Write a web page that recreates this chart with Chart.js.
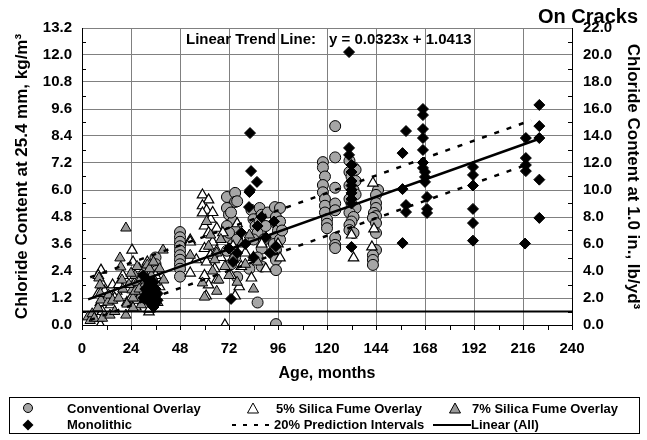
<!DOCTYPE html>
<html>
<head>
<meta charset="utf-8">
<script src="https://cdn.jsdelivr.net/npm/chart.js@4"></script>
<style>
body{margin:0;background:#fff;}
#wrap{position:relative;width:647px;height:440px;font-family:"Liberation Sans",Arial,sans-serif;}
#legend{position:absolute;left:9px;top:397px;width:629px;height:35px;border:1px solid #000;font-weight:bold;font-size:13px;color:#000;}
.item{position:absolute;white-space:nowrap;line-height:15px;}
.mk{position:absolute;}
</style>
</head>
<body>
<div id="wrap">
<canvas id="chart" width="647" height="440"></canvas>
<div id="legend">
  <svg class="mk" style="left:12px;top:4px" width="12" height="12"><circle cx="6" cy="6" r="4.5" fill="#a6a6a6" stroke="#000"/></svg>
  <div class="item" style="left:57px;top:3px">Conventional Overlay</div>
  <svg class="mk" style="left:236px;top:4px" width="14" height="12"><polygon points="7,1 12.5,11 1.5,11" fill="#fff" stroke="#000"/></svg>
  <div class="item" style="left:266px;top:3px">5% Silica Fume Overlay</div>
  <svg class="mk" style="left:438px;top:4px" width="14" height="12"><polygon points="7,1 12.5,11 1.5,11" fill="#999" stroke="#000"/></svg>
  <div class="item" style="left:462px;top:3px">7% Silica Fume Overlay</div>
  <svg class="mk" style="left:12px;top:21px" width="12" height="12"><polygon points="6,0.5 11.5,6 6,11.5 0.5,6" fill="#000"/></svg>
  <div class="item" style="left:57px;top:19px">Monolithic</div>
  <svg class="mk" style="left:222px;top:21px" width="42" height="12"><line x1="0" y1="6" x2="42" y2="6" stroke="#000" stroke-width="2" stroke-dasharray="4,7"/></svg>
  <div class="item" style="left:264px;top:19px">20% Prediction Intervals</div>
  <svg class="mk" style="left:423px;top:21px" width="38" height="12"><line x1="0" y1="6" x2="38" y2="6" stroke="#000" stroke-width="2"/></svg>
  <div class="item" style="left:461px;top:19px">Linear (All)</div>
</div>
</div>
<script>
var fontFam = '"Liberation Sans", Arial, sans-serif';

// conventional overlay
var convAge = [36,36,36.5, 48,48,48,48,48,48,48,48,48,48,
  71,75,75,71,72,74,71,75,72,74,71,75,73,76,73,72,74,76,76,
  83,87,84,85,86,84,88,86,88,82,86,87,89,90,91,88,
  94.5,97,95,95,96,95,94,95,95,95,95,97,97,98,
  118,118,119,118,118,119,119,119,120,120,120,
  124,124,124,124,124,124,124,124,
  131,133,131,132,134,131,133,134,131,132,134,131,133,132,131,131,133,134,
  145,144,144,144,143,144,142.5,144,144,144,142.5,142.5,142.5];
var convCl = [3.0,2.7,2.4, 4.13,3.9,3.7,3.5,3.3,3.1,2.9,2.7,2.5,2.15,
  5.69,5.87,5.47,5.2,4.9,4.6,4.4,4.2,3.9,3.6,3.3,3.0,2.7,2.13,5.0,4.1,3.4,5.5,3.8,
  5.11,5.2,4.7,4.4,4.1,3.8,3.4,3.0,4.9,2.5,1.0,4.6,3.8,4.4,5.0,2.6,
  5.24,5.2,4.8,4.53,4.2,3.9,3.6,3.33,2.89,2.44,0.04,4.6,3.8,4.2,
  7.24,7.0,6.6,6.22,5.9,5.6,5.3,5.0,4.7,4.5,4.3,
  8.84,7.45,6.1,5.4,5.1,3.87,3.56,3.42,
  7.3,7.0,6.8,6.6,6.4,6.2,6.0,5.8,5.6,5.4,5.2,5.0,4.8,4.6,4.44,4.22,4.09,6.9,
  6.0,5.78,5.42,5.2,4.98,4.84,4.76,4.53,4.09,3.33,3.1,2.89,2.67];

// 5% silica fume overlay
var sf5Age = [9,8,10,9,8,10,9.3,8,12,15,14,17,20,22,24.5,25,26,26.4,28,29,30,32,32.8,34,36,38,
  24,27,31,33,35,37,22,18,16,11,
  53,53,53,56,
  59,62,59,61,59,63,60,62,64,60,63,61,65,60,62,60.8,66,66,64,66,68,69,
  70,73,74,75,76,78,80,77,
  83,84,88,90,97,96,
  132,133,142.5,143,142];
var sf5Cl = [0.0,0.3,0.6,1.0,1.4,1.8,2.44,2.2,1.2,1.78,0.9,1.5,2.2,1.0,3.33,2.8,1.9,0.8,2.5,1.5,2.0,2.8,0.58,1.8,2.2,1.7,
  1.2,1.1,1.1,0.7,1.3,1.0,1.6,1.8,1.2,1.5,
  3.78,3.69,2.31,2.9,
  5.78,5.56,5.3,5.1,4.98,4.7,4.4,4.1,3.69,3.4,3.1,2.8,2.5,2.2,1.78,1.29,3.3,4.3,5.0,2.0,3.0,4.1,
  0.0,2.2,3.5,1.29,4.5,2.6,3.2,1.7,
  2.09,3.0,3.6,2.5,2.98,3.6,
  4.0,2.98,6.31,4.27,3.47];

// 7% silica fume overlay
var sf7Age = [3,4,5,6,7.8,8.3,8.8,9.3,9,10,12.7,13,13.7,15,16,18,18.6,19,19.6,20,21.5,21.5,22,
  24.5,25,26,27,28,29,30,30,31,32,33,34,35,38,39.7,40,
  25,26,27,28,29,31,33,35,36,23,24,
  53,59,60,62,64,66,61,63,65,67,68,70,66,
  72,74,76,78,80,82,84,86];
var sf7Cl = [0.36,0.2,0.5,0.3,0.76,2.09,1.78,1.11,1.4,0.3,1.02,1.33,0.44,1.1,0.6,1.2,2.98,2.58,2.0,1.6,4.31,0.44,0.93,
  1.56,0.76,2.2,1.9,1.2,0.9,1.7,2.4,1.4,2.67,1.9,2.2,1.5,2.5,3.33,2.0,
  1.2,1.5,2.6,1.6,2.1,2.0,2.5,2.8,1.9,1.8,2.3,
  3.1,1.87,1.24,3.5,2.4,3.2,4.6,4.0,2.9,2.0,3.8,2.6,1.5,
  2.2,3.0,1.9,3.6,2.7,4.0,1.6,2.8];

// monolithic
var monoAge = [30,32,34,35,36,36,37,33,31,33,34,35,36,32,30,37,
  72,73,74,78,80,81.8,82,82.3,82.8,82.3,84,85.7,86,90,92,94,76,88,95,
  130.8,130.8,130.8,132,132,132,132,132,132,132,132,132,
  157,157,157,158.7,158.7,158.7,
  167,167,167,167,167,167,167,168,168,168,169,169,169,
  191.5,191.5,191.5,191.5,191.5,191.5,
  217.4,217.4,217.4,217.4,217,
  224,224,224,224,224];
var monoCl = [1.2,2.0,1.5,0.8,1.3,0.95,1.1,1.0,1.6,1.8,1.2,1.9,1.6,1.4,2.2,1.4,
  3.4,1.16,2.8,4.1,3.6,5.24,5.91,6.0,6.84,8.53,3.0,6.36,4.4,3.9,3.2,4.6,3.2,4.8,3.5,
  12.13,7.87,7.56,7.11,6.8,6.4,6.2,6.0,5.87,5.6,5.4,3.47,
  7.64,6.04,3.64,8.62,5.33,5.02,
  9.6,9.33,8.71,8.31,7.78,7.22,6.98,6.8,6.58,6.36,5.69,5.16,4.98,
  7.02,6.67,6.2,5.16,4.53,3.75,
  8.31,7.42,7.11,6.84,3.62,
  9.78,8.84,8.31,6.46,4.76];

// trend line y = slope*x + intercept and the 20% prediction band
var slope = 0.0323;
var intercept = 1.0413;
var trendAge = [3, 224];
var bandAge = [4, 220];
var bandWidth = 0.95;
var threshold = 0.6;
var xTicks = [0, 24, 48, 72, 96, 120, 144, 168, 192, 216, 240];

function pts(a, b){
    var out = [];
    for (var i = 0; i < a.length; i++) out.push({x: a[i], y: b[i]});
    return out;
}
function line(ages, off){
    return ages.map(function(a){ return {x: a, y: slope * a + intercept + off}; });
}

var extras = {
    id: 'extras',
    afterDraw: function(chart){
        var c = chart.ctx;
        var xs = chart.scales.x, ys = chart.scales.y, a = chart.chartArea;
        c.save();
        c.strokeStyle = '#000';
        c.lineWidth = 1;
        c.beginPath();
        for (var m = 12; m < 240; m += 24){
            var px = Math.round(xs.getPixelForValue(m)) + 0.5;
            c.moveTo(px, a.bottom); c.lineTo(px, a.bottom + 5);
        }
        for (var v = 0.6; v < 13.2; v += 1.2){
            var py = Math.round(ys.getPixelForValue(v)) + 0.5;
            c.moveTo(a.left, py); c.lineTo(a.left + 4, py);
            c.moveTo(a.right - 4, py); c.lineTo(a.right, py);
        }
        c.stroke();
        c.fillStyle = '#000';
        c.textBaseline = 'middle';
        c.font = 'bold 15px ' + fontFam;
        c.textAlign = 'left';
        c.fillText('Linear Trend Line:', a.left + 104, a.top + 12);
        c.fillText('y = ' + slope.toFixed(4) + 'x + ' + intercept.toFixed(4), a.left + 247, a.top + 12);
        c.font = 'bold 20px ' + fontFam;
        c.textAlign = 'right';
        c.fillText('On Cracks', 638, 17);
        c.restore();
    }
};

var tickFont = {family: fontFam, size: 15, weight: 'bold'};
var ctx = document.getElementById('chart').getContext('2d');
var chart = new Chart(ctx, {
    type: 'scatter',
    data: {
        datasets: [
            {label: 'Linear (All)', data: line(trendAge, 0), showLine: true, borderColor: '#000', borderWidth: 2.5, pointRadius: 0, order: 0},
            {label: '20% Prediction Intervals', data: line(bandAge, bandWidth), showLine: true, borderColor: '#000', borderWidth: 2.5, borderDash: [5, 8], pointRadius: 0, order: 0},
            {label: 'lower', data: line(bandAge, -bandWidth), showLine: true, borderColor: '#000', borderWidth: 2.5, borderDash: [5, 8], pointRadius: 0, order: 0},
            {label: 'threshold', data: [{x: 0, y: threshold}, {x: 240, y: threshold}], showLine: true, borderColor: '#000', borderWidth: 2, pointRadius: 0, order: 0},
            {label: 'Monolithic', data: pts(monoAge, monoCl), pointStyle: 'rectRot', pointRadius: 5.5, backgroundColor: '#000', borderColor: '#000', borderWidth: 1, order: 1},
            {label: '7% Silica Fume Overlay', data: pts(sf7Age, sf7Cl), pointStyle: 'triangle', pointRadius: 6, backgroundColor: '#999', borderColor: '#000', borderWidth: 1, order: 2},
            {label: '5% Silica Fume Overlay', data: pts(sf5Age, sf5Cl), pointStyle: 'triangle', pointRadius: 6, backgroundColor: '#fff', borderColor: '#000', borderWidth: 1.2, order: 3},
            {label: 'Conventional Overlay', data: pts(convAge, convCl), pointStyle: 'circle', pointRadius: 5.5, backgroundColor: '#a6a6a6', borderColor: '#000', borderWidth: 1, order: 4}
        ]
    },
    options: {
        responsive: false,
        animation: false,
        layout: {padding: {top: 28, right: 0, left: 0, bottom: 0}},
        plugins: {legend: {display: false}, tooltip: {enabled: false}},
        scales: {
            x: {
                type: 'linear', min: 0, max: 240,
                afterBuildTicks: function(s){ s.ticks = xTicks.map(function(v){ return {value: v}; }); },
                ticks: {color: '#000', font: tickFont, padding: 10, maxRotation: 0},
                grid: {color: '#808080', tickLength: 5, tickColor: '#000'},
                border: {color: '#000'},
                title: {display: true, text: 'Age, months', color: '#000', font: {family: fontFam, size: 16, weight: 'bold'}, padding: {top: 0, bottom: 57}},
                afterFit: function(s){ s.height = 115; }
            },
            y: {
                min: 0, max: 13.2,
                ticks: {stepSize: 1.2, color: '#000', font: tickFont, padding: 10, callback: function(v){ return v.toFixed(1); }},
                grid: {color: '#808080', drawTicks: false},
                border: {color: '#000'},
                title: {display: true, text: 'Chloride Content at 25.4 mm, kg/m\u00b3', color: '#000', font: {family: fontFam, size: 17, weight: 'bold'}, padding: {top: 12, bottom: 0}},
                afterFit: function(s){ s.width = 82; }
            },
            y2: {
                position: 'right', min: 0, max: 22,
                ticks: {stepSize: 2, color: '#000', font: tickFont, padding: 11, callback: function(v){ return v.toFixed(1); }},
                grid: {drawOnChartArea: false, drawTicks: false},
                border: {color: '#000'},
                title: {display: true, text: 'Chloride Content at 1.0 in., lb/yd\u00b3', color: '#000', font: {family: fontFam, size: 17, weight: 'bold'}, padding: {top: 4, bottom: 0}},
                afterFit: function(s){ s.width = 75; }
            }
        }
    },
    plugins: [extras]
});
</script>
</body>
</html>
